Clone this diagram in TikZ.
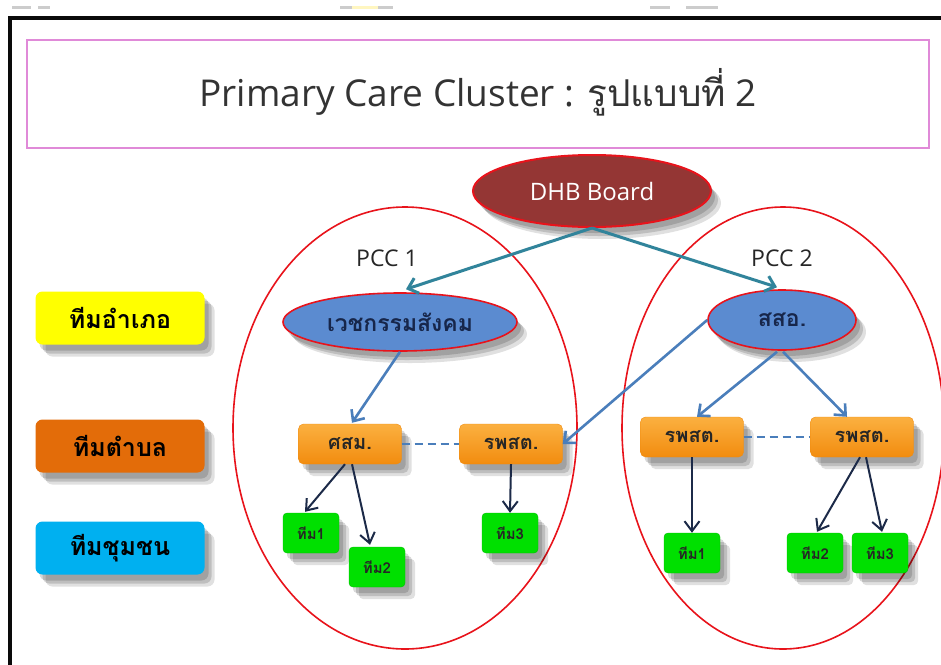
\documentclass[tikz,border=0pt]{standalone}
\usepackage{fontspec}
\setmainfont{Open Sans}
\newfontfamily\thai[Script=Thai]{Loma}
\usetikzlibrary{shapes.geometric,arrows.meta,shadows,calc}
\definecolor{frameblk}{HTML}{0A0A0A}
\definecolor{pinkb}{HTML}{E08AD8}
\definecolor{redl}{HTML}{E8131B}
\definecolor{dhbfill}{HTML}{943634}
\definecolor{ellblue}{HTML}{5B8BD0}
\definecolor{tealc}{HTML}{31849B}
\definecolor{bluec}{HTML}{4A7EBB}
\definecolor{navyc}{HTML}{1C2A48}
\definecolor{navytxt}{HTML}{17264A}
\definecolor{orangetop}{HTML}{FBB040}
\definecolor{orangebot}{HTML}{F28C0F}
\definecolor{greenc}{HTML}{00E000}
\definecolor{greenb}{HTML}{00C000}
\definecolor{legyellow}{HTML}{FFFF00}
\definecolor{legorange}{HTML}{E36C09}
\definecolor{legblue}{HTML}{00B0F0}
\definecolor{markgray}{HTML}{CCCCCC}
\definecolor{markyellow}{HTML}{FFF6C0}
\tikzset{
  softshadow/.style={
    drop shadow={shadow xshift=4pt,shadow yshift=-6pt,opacity=0.15,fill=black},
    drop shadow={shadow xshift=7pt,shadow yshift=-9pt,opacity=0.15,fill=black},
    drop shadow={shadow xshift=10pt,shadow yshift=-12pt,opacity=0.12,fill=black}},
  bigell/.style={ellipse,draw=redl,line width=1.6pt,inner sep=0pt},
  blueell/.style={ellipse,draw=redl,line width=1.6pt,fill=ellblue,inner sep=0pt,softshadow,
    text=navytxt,font=\thai\bfseries\fontsize{23}{27}\selectfont},
  orbox/.style={rectangle,rounded corners=5pt,minimum width=103pt,minimum height=40pt,
    top color=orangetop,bottom color=orangebot,draw=orangebot,softshadow,
    text=black!85,font=\thai\bfseries\fontsize{20}{24}\selectfont},
  grbox/.style={rectangle,rounded corners=4pt,minimum width=56pt,minimum height=40pt,
    fill=greenc,draw=greenb,softshadow,text=black!85,
    font=\thai\bfseries\fontsize{15}{18}\selectfont},
  legbox/.style={rectangle,rounded corners=7pt,minimum width=169pt,minimum height=53pt,
    softshadow,text=black,font=\thai\bfseries\fontsize{25}{29}\selectfont},
  tealarrow/.style={draw=tealc,line width=3pt,-{Straight Barb[length=9pt,width=16pt,line width=3pt]}},
  bluearrow/.style={draw=bluec,line width=2.6pt,-{Straight Barb[length=9pt,width=16pt,line width=2.6pt]}},
  navyarrow/.style={draw=navyc,line width=2pt,-{Straight Barb[length=10pt,width=15pt,line width=2pt]}},
  dashlink/.style={draw=bluec,line width=2.2pt,dash pattern=on 8pt off 5pt},
  pcclabel/.style={font=\fontsize{23}{27}\selectfont,text=black!85}
}
\begin{document}
\begin{tikzpicture}[x=1pt,y=-1pt]
\useasboundingbox (0,0) rectangle (941,664);
\fill[white] (0,0) rectangle (941,664);
% top marks
\fill[markgray] (12,6) rectangle (31,9);
\fill[markgray] (38,6) rectangle (50,9);
\fill[markgray] (340,6) rectangle (352,9);
\fill[markyellow] (352,6) rectangle (378,9);
\fill[markgray] (378,6) rectangle (393,9);
\fill[markgray] (650,6) rectangle (670,9);
\fill[markgray] (686,6) rectangle (718,9);
% frame
\draw[frameblk,line width=3.5pt] (10,670) -- (10,17.5);
\draw[frameblk,line width=4pt] (8.25,17.5) -- (950,17.5);
% title
\node[draw=pinkb,line width=1.5pt,minimum width=902pt,minimum height=108pt,inner sep=0pt] (tbox) at (478,94) {};
\node[text=black!80,font=\fontsize{37}{42}\selectfont] (title) at (478,92)
  {Primary Care Cluster : {\thai รูปแบบที่} 2};
% big ellipses
\node[bigell,minimum width=344pt,minimum height=442pt] (pcc1) at (405,428) {};
\node[bigell,minimum width=322pt,minimum height=442pt] (pcc2) at (783,428) {};
\node[pcclabel] (l1) at (387,258) {PCC 1};
\node[pcclabel] (l2) at (782,258) {PCC 2};
% legend
\node[legbox,fill=legyellow] (lg1) at (120,318) {ทีมอำเภอ};
\node[legbox,fill=legorange] (lg2) at (120,446) {ทีมตำบล};
\node[legbox,fill=legblue] (lg3) at (120,548) {ทีมชุมชน};
% DHB
\node[ellipse,draw=redl,line width=2pt,fill=dhbfill,minimum width=238pt,minimum height=72pt,
  inner sep=0pt,softshadow,text=white,font=\fontsize{24}{28}\selectfont] (dhb) at (592,191) {DHB Board};
% district ellipses
\node[blueell,minimum width=234pt,minimum height=58pt] (vet) at (400,322) {เวชกรรมสังคม};
\node[blueell,minimum width=148pt,minimum height=60pt] (sso) at (782,320) {สสอ.};
% orange boxes
\node[orbox] (ssm) at (350,444) {ศสม.};
\node[orbox] (rp1) at (511,444) {รพสต.};
\node[orbox] (rp2a) at (692,437) {รพสต.};
\node[orbox] (rp2b) at (862,437) {รพสต.};
% green boxes
\node[grbox] (t1a) at (311,533) {ทีม1};
\node[grbox] (t2a) at (377,567) {ทีม2};
\node[grbox] (t3a) at (510,533) {ทีม3};
\node[grbox] (t1b) at (692,553) {ทีม1};
\node[grbox] (t2b) at (815,553) {ทีม2};
\node[grbox] (t3b) at (880,553) {ทีม3};
% teal arrows
\draw[tealarrow] (dhb.south) -- ($(vet.north)+(6,-3)$);
\draw[tealarrow] (dhb.south) -- ($(sso.north)+(-5,-2)$);
% blue arrows
\draw[bluearrow] (vet.south) -- ($(ssm.north)+(2,-1)$);
\draw[bluearrow] (sso.west) -- (rp1.east);
\draw[bluearrow] ($(sso.south)+(-5,1)$) -- ($(rp2a.north)+(5,0)$);
\draw[bluearrow] ($(sso.south)+(1,1)$) -- ($(rp2b.north)+(-15,0)$);
% dashed links
\draw[dashlink] (ssm.east) -- (rp1.west);
\draw[dashlink] (rp2a.east) -- (rp2b.west);
% navy arrows
\draw[navyarrow] ($(ssm.south)+(-5,0)$) -- ($(t1a.north)+(-6,-1)$);
\draw[navyarrow] ($(ssm.south)+(2,0)$) -- ($(t2a.north)+(-7,-2)$);
\draw[navyarrow] (rp1.south) -- (t3a.north);
\draw[navyarrow] (rp2a.south) -- (t1b.north);
\draw[navyarrow] ($(rp2b.south)+(-2,0)$) -- ($(t2b.north)+(2,-1)$);
\draw[navyarrow] ($(rp2b.south)+(4,0)$) -- ($(t3b.north)+(2,-1)$);
\end{tikzpicture}
\end{document}
